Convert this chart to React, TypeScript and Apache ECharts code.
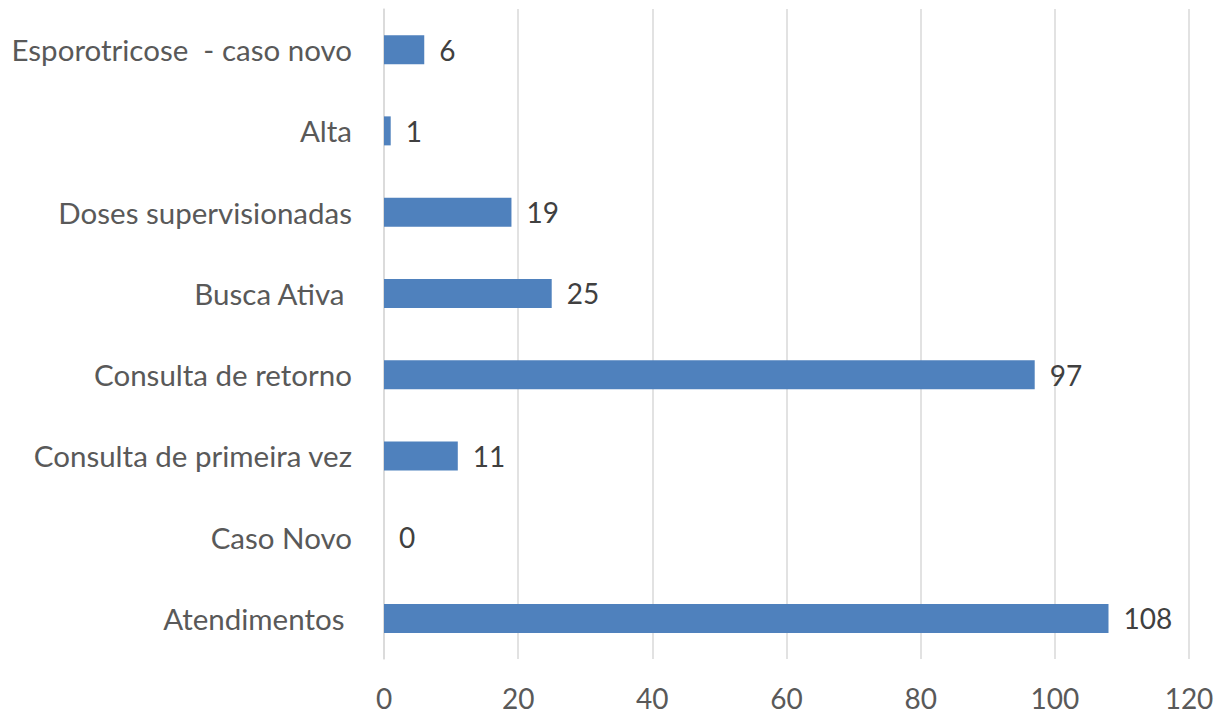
import React, { useEffect, useRef } from "react";
import * as echarts from "echarts";

const categories = [
  "Atendimentos ",
  "Caso Novo",
  "Consulta de primeira vez",
  "Consulta de retorno",
  "Busca Ativa ",
  "Doses supervisionadas",
  "Alta",
  "Esporotricose  - caso novo",
];
const values = [108, 0, 11, 97, 25, 19, 1, 6];
const xTicks = { min: 0, max: 120, interval: 20 };

export default function App() {
  const ref = useRef<HTMLDivElement>(null);
  useEffect(() => {
    if (!ref.current) return;
    const chart = echarts.init(ref.current, undefined, { renderer: "svg" });
    const font = "Lato, 'Liberation Sans', sans-serif";
    chart.setOption({
      animation: false,
      backgroundColor: "#ffffff",
      grid: { left: 384, right: 30, top: 9, bottom: 55, containLabel: false },
      xAxis: {
        type: "value",
        min: xTicks.min,
        max: xTicks.max,
        interval: xTicks.interval,
        axisLine: { show: false },
        axisTick: { show: false },
        splitLine: { show: true, lineStyle: { color: "#d9d9d9", width: 1.5 } },
        axisLabel: { color: "#595959", fontSize: 28, fontFamily: font, margin: 25 },
      },
      yAxis: {
        type: "category",
        data: categories,
        axisLine: { show: true, lineStyle: { color: "#d9d9d9", width: 1.5 } },
        axisTick: { show: false },
        axisLabel: { color: "#595959", fontSize: 29.5, fontFamily: font, margin: 32 },
      },
      series: [
        {
          type: "bar",
          data: values,
          barWidth: 29,
          itemStyle: { color: "#4f81bd" },
          label: {
            show: true,
            position: "right",
            distance: 15,
            color: "#404040",
            fontSize: 28,
            fontFamily: font,
          },
        },
      ],
    });
    return () => chart.dispose();
  }, []);
  return (
    <div
      ref={ref}
      style={{ position: "fixed", left: 0, top: 0, width: 1219, height: 714, background: "#fff" }}
    />
  );
}
